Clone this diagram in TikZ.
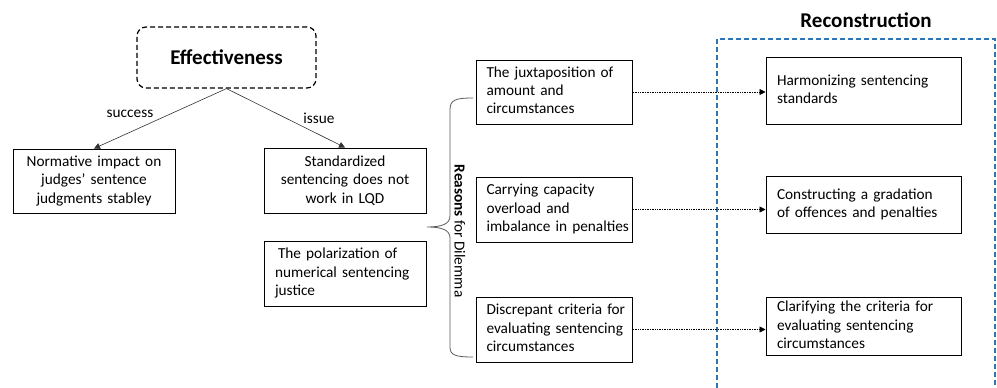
\documentclass[tikz,border=0pt]{standalone}
\usepackage{fontspec}
\setmainfont{Carlito}
\usetikzlibrary{arrows.meta}
\definecolor{recblue}{RGB}{46,117,182}
\definecolor{bracegray}{RGB}{90,90,90}
\hbadness=10000 \hfuzz=20pt
\newcommand{\lines}[1]{\begin{tabular}{@{}l@{}}#1\end{tabular}}
\begin{document}
\begin{tikzpicture}[x=1pt,y=-1pt,
  txt/.style={font=\fontsize{15.3}{18.3}\selectfont},
  box/.style={draw, line width=1pt, txt, inner xsep=11pt, inner ysep=2pt},
  cbox/.style={box, align=center, text width=#1},
  lbox/.style={box, align=left, text width=#1},
  effbox/.style={draw, line width=1.2pt, dash pattern=on 5pt off 3pt, rounded corners=9pt,
     minimum width=179pt, minimum height=61pt, font=\fontsize{21}{24}\selectfont\bfseries},
  tiparrow/.style={-{Triangle[length=6pt,width=6pt]}, line width=0.6pt, draw=black!80},
  dotarrow/.style={-{Triangle[length=6pt,width=6pt]}, line width=0.7pt, densely dotted},
  bluedash/.style={color=recblue, line width=1.2pt, dash pattern=on 5pt off 3pt}]
\useasboundingbox (0,0) rectangle (997,388);

\node[effbox] (eff) at (226.5,57.5) {Effectiveness};

\node[cbox=140pt, minimum width=162pt, minimum height=64pt] (norm) at (94,181)
  {Normative impact on\\judges' sentence\\judgments stabley};
\node[cbox=140pt, minimum width=162pt, minimum height=65pt] (std) at (345,180.5)
  {Standardized\\sentencing does not\\work in LQD};
\node[lbox=140pt, minimum width=162pt, minimum height=65pt] (pol) at (345,273.5)
  {\lines{\hspace*{3pt}The polarization of\\numerical sentencing\\justice}};

\draw[tiparrow] (eff.south) -- (norm.north);
\draw[tiparrow] (eff.south) -- (std.north);
\node[txt] (lsuc) at (130,114) {success};
\node[txt] (liss) at (319,118) {issue};

\node[lbox=136pt, inner xsep=10pt, minimum width=156pt, minimum height=64pt] (m1) at (554.5,92)
  {\lines{The juxtaposition of\\amount and\\circumstances}};
\node[lbox=136pt, inner xsep=10pt, minimum width=156pt, minimum height=65pt] (m2) at (554.5,209.5)
  {\lines{Carrying capacity\\overload and\\imbalance in penalties}};
\node[lbox=136pt, inner xsep=10pt, minimum width=156pt, minimum height=65pt] (m3) at (554.5,329.5)
  {\lines{Discrepant criteria for\\evaluating sentencing\\circumstances}};

% brace
\coordinate (bt) at (473,98);
\coordinate (bb) at (473,357);
\coordinate (btip) at (427,227);
\draw[bracegray, line width=0.8pt] (bt) .. controls (455,98) and (450,100) .. (450,110)
  -- (450,216) .. controls (450,224) and (442,227) .. (btip)
  .. controls (442,227) and (450,230) .. (450,238)
  -- (450,347) .. controls (450,355) and (455,357) .. (bb);
\node[txt, rotate=-90] (reasons) at (460,231) {\textbf{Reasons} for Dilemma};

% reconstruction
\node[font=\fontsize{21}{24}\selectfont\bfseries] (rec) at (866,20) {Reconstruction};
\coordinate (bl) at (717,388);
\coordinate (tl) at (717,39);
\coordinate (tr) at (995,39);
\coordinate (br) at (995,388);
\draw[bluedash] (bl) -- (tl) -- (tr) -- (br);

\node[lbox=173pt, minimum width=195pt, minimum height=67pt] (r1) at (863.5,91)
  {\lines{Harmonizing sentencing\\standards}};
\node[lbox=173pt, minimum width=195pt, minimum height=57pt] (r2) at (863.5,204.5)
  {\lines{Constructing a gradation\\of offences and penalties}};
\node[lbox=173pt, minimum width=195pt, minimum height=57pt] (r3) at (863.5,326.5)
  {\lines{Clarifying the criteria for\\evaluating sentencing\\circumstances}};

\draw[dotarrow] (m1.east) -- (m1.east -| r1.west);
\draw[dotarrow] (m2.east) -- (m2.east -| r2.west);
\draw[dotarrow] (m3.east) -- (m3.east -| r3.west);
\end{tikzpicture}
\end{document}
